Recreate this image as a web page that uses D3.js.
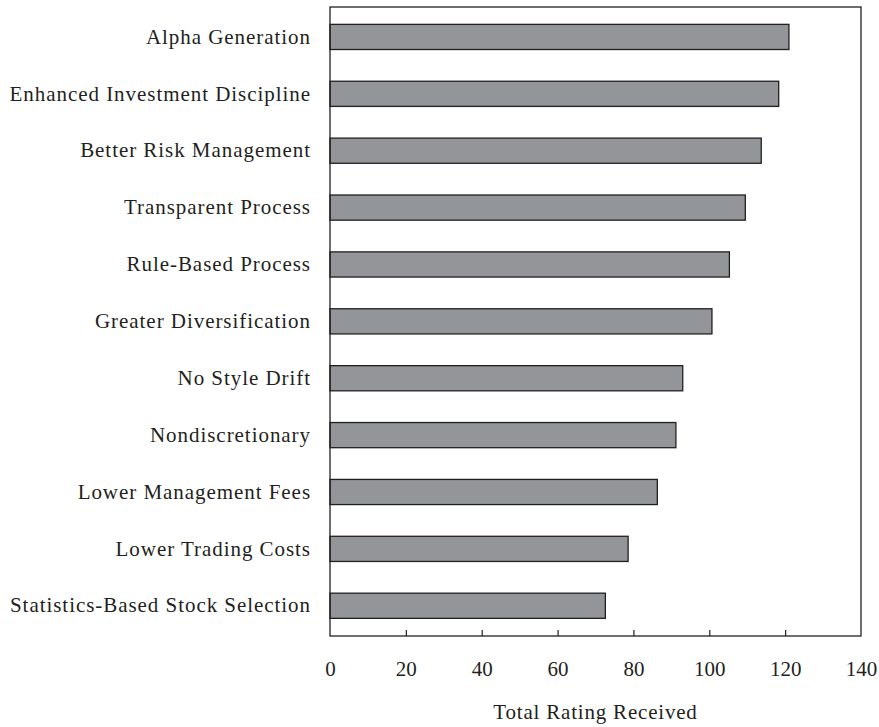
<!DOCTYPE html>
<html><head><meta charset="utf-8">
<script src="https://cdn.jsdelivr.net/npm/d3@7"></script>
<style>html,body{margin:0;padding:0;background:#fff;}</style>
</head><body>
<svg id="chart" width="879" height="727"></svg>
<script>
const categories = [
  "Alpha Generation",
  "Enhanced Investment Discipline",
  "Better Risk Management",
  "Transparent Process",
  "Rule-Based Process",
  "Greater Diversification",
  "No Style Drift",
  "Nondiscretionary",
  "Lower Management Fees",
  "Lower Trading Costs",
  "Statistics-Based Stock Selection"
];
const values = [121, 118.3, 113.7, 109.5, 105.3, 100.7, 93, 91.2, 86.3, 78.6, 72.6];
const xTicks = [0, 20, 40, 60, 80, 100, 120, 140];
const xTitle = "Total Rating Received";

(function () {
const svg = d3.select("#chart");
const mL = 330, mR = 861, mT = 7, mB = 636;
const font = "'Liberation Serif', 'Times New Roman', serif";

const x = d3.scaleLinear().domain([0, 140]).range([mL, mR]);
const y = d3.scaleBand().domain(categories).range([8.5, 634.2]).paddingInner(0.54).paddingOuter(0.27);

// bars
svg.append("g").selectAll("rect").data(values).join("rect")
  .attr("x", x(0))
  .attr("y", (d, i) => y(categories[i]) + 0.5)
  .attr("width", d => x(d) - x(0))
  .attr("height", y.bandwidth() - 1)
  .attr("fill", "#939598")
  .attr("stroke", "#231f20")
  .attr("stroke-width", 1.3);

// frame
svg.append("rect")
  .attr("x", mL).attr("y", mT)
  .attr("width", mR - mL).attr("height", mB - mT)
  .attr("fill", "none").attr("stroke", "#231f20").attr("stroke-width", 1.3);

// x axis
const xAxis = d3.axisBottom(x).tickValues(xTicks).tickSizeInner(-6).tickSizeOuter(0).tickPadding(25);
const gx = svg.append("g").attr("transform", `translate(0,${mB})`).call(xAxis);
gx.select(".domain").remove();
gx.selectAll(".tick line").attr("stroke", "#231f20").attr("stroke-width", 1.2)
  .filter(d => d === 0 || d === 140).remove();
gx.selectAll(".tick text").attr("font-family", font).attr("font-size", 21).attr("fill", "#231f20");

// y axis labels
const yAxis = d3.axisLeft(y).tickSize(0).tickPadding(19);
const gy = svg.append("g").attr("transform", `translate(${mL},0)`).call(yAxis);
gy.select(".domain").remove();
gy.selectAll(".tick text").attr("font-family", font).attr("font-size", 21).attr("fill", "#231f20")
  .attr("letter-spacing", 0.95);

// title
svg.append("text").attr("x", (mL + mR) / 2).attr("y", 719)
  .attr("text-anchor", "middle").attr("font-family", font).attr("font-size", 21)
  .attr("letter-spacing", 0.8)
  .attr("fill", "#231f20").text(xTitle);
})();
</script>
</body></html>
